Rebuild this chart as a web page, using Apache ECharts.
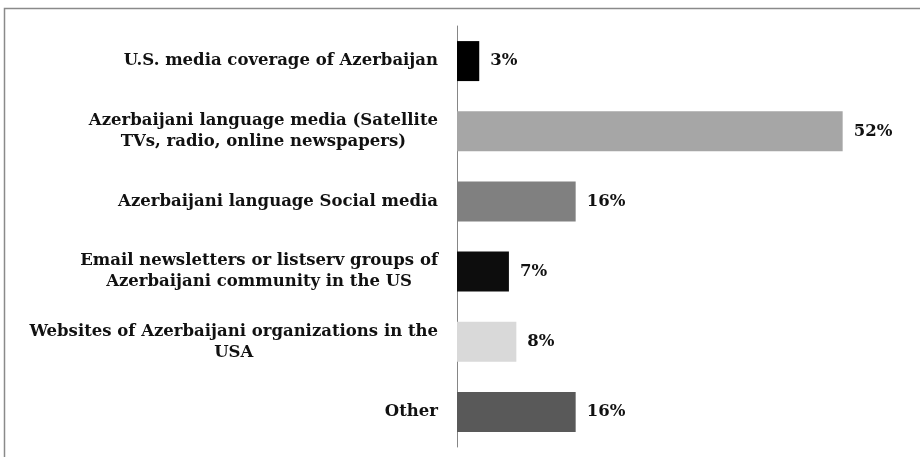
<!DOCTYPE html>
<html>
<head>
<meta charset="utf-8">
<script src="https://cdn.jsdelivr.net/npm/echarts@6/dist/echarts.min.js"></script>
<style>
  html, body { margin: 0; padding: 0; background: #fff; }
  #chart { width: 920px; height: 457px; }
</style>
</head>
<body>
<div id="chart"></div>
<script>
// Information sources (share of respondents, %)
const categories = [
  'U.S. media coverage of Azerbaijan',
  'Azerbaijani language media (Satellite\nTVs, radio, online newspapers)',
  'Azerbaijani language Social media',
  'Email newsletters or listserv groups of\nAzerbaijani community in the US',
  'Websites of Azerbaijani organizations in the\nUSA',
  'Other'
];
const values = [3, 52, 16, 7, 8, 16];
const barColors = ['#000000', '#a6a6a6', '#808080', '#0d0d0d', '#d9d9d9', '#595959'];

const serif = '"DejaVu Serif", "Liberation Serif", serif';

const chart = echarts.init(document.getElementById('chart'), null, { renderer: 'canvas' });

chart.setOption({
  animation: false,
  backgroundColor: '#ffffff',
  grid: { left: 457, right: 18, top: 26, bottom: 10, containLabel: false },
  xAxis: {
    type: 'value',
    min: 0,
    max: 60,
    show: false
  },
  yAxis: {
    type: 'category',
    inverse: true,
    data: categories,
    axisLine: { show: true, lineStyle: { color: '#868686', width: 1 } },
    axisTick: { show: false },
    splitLine: { show: false },
    axisLabel: {
      margin: 19,
      align: 'right',
      color: '#111',
      fontFamily: serif,
      fontWeight: 'bold',
      fontSize: 16.5,
      lineHeight: 21,
      // each line is centred within the label block
      formatter: function (v) {
        return v.split('\n').map(function (l) { return '{c|' + l + '}'; }).join('\n');
      },
      rich: {
        c: { align: 'center', fontFamily: serif, fontWeight: 'bold', fontSize: 16.5, lineHeight: 21, color: '#111' }
      }
    }
  },
  series: [{
    type: 'bar',
    barWidth: 40,
    data: values.map(function (v, i) {
      return { value: v, itemStyle: { color: barColors[i] } };
    }),
    label: {
      show: true,
      position: 'right',
      distance: 11,
      formatter: '{c}%',
      color: '#111',
      fontFamily: serif,
      fontWeight: 'bold',
      fontSize: 16.5
    }
  }],
  graphic: [{
    type: 'polyline',
    shape: { points: [[4.5, 457], [4.5, 8.5], [920, 8.5]] },
    style: { stroke: '#8a8a8a', lineWidth: 1.5, fill: null },
    silent: true
  }]
});
</script>
</body>
</html>
